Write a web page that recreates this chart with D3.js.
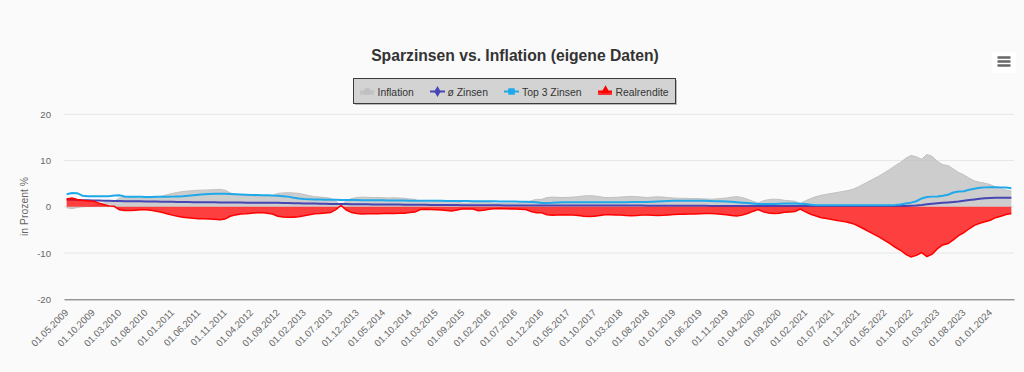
<!DOCTYPE html>
<html><head><meta charset="utf-8">
<script src="https://cdn.jsdelivr.net/npm/d3@7"></script>
<style>
html,body{margin:0;padding:0;background:#fafafa;}
svg{display:block;font-family:"Liberation Sans",Arial,sans-serif;}
</style>
</head><body>
<svg id="chart" width="1024" height="372"></svg>
<script>
const chartTitle = "Sparzinsen vs. Inflation (eigene Daten)";
const seriesNames = ["Inflation", "ø Zinsen", "Top 3 Zinsen", "Realrendite"];
const seriesColors = ["#c0c0c0", "#4646b4", "#1fa8ea", "#ff0000"];
const yTicks = [-20, -10, 0, 10, 20];
const yTitle = "in Prozent %";
const missingMonths = ["01.08.2015"];

// monthly categories 01.05.2009 .. 01.05.2024 (one month missing in the data)
const categories = [];
for (let yr = 2009, mo = 5; yr < 2024 || (yr === 2024 && mo <= 5);) {
  const s = "01." + String(mo).padStart(2, "0") + "." + yr;
  if (!missingMonths.includes(s)) categories.push(s);
  mo++; if (mo > 12) { mo = 1; yr++; }
}

const inflation = [
 -0.2,-0.4,-0.15,0.0,0.1,0.1,0.5,0.8,1.1,1.15,
 1.9,2.0,2.0,1.95,1.85,1.8,1.9,2.1,2.3,2.6,
 2.9,3.1,3.3,3.4,3.5,3.6,3.6,3.65,3.7,3.75,
 3.6,3.0,2.7,2.5,2.4,2.3,2.2,2.15,2.25,2.4,
 2.9,3.0,3.05,3.0,2.9,2.65,2.4,2.2,2.1,2.0,
 1.85,1.2,0.3,1.3,1.8,2.0,2.1,2.05,2.0,2.0,
 1.95,1.9,1.95,1.9,1.85,1.7,1.6,1.05,1.0,1.0,
 1.05,1.1,1.2,1.3,1.1,0.8,0.8,0.85,1.2,1.1,
 0.9,0.75,0.7,0.7,0.75,0.75,0.85,0.9,1.3,1.6,
 1.6,2.0,2.1,2.05,2.0,2.05,2.1,2.2,2.35,2.4,
 2.35,2.2,2.0,2.0,2.05,2.1,2.2,2.25,2.2,2.1,
 2.0,2.1,2.15,2.1,2.0,1.9,1.85,1.85,1.8,1.8,
 1.75,1.7,1.65,1.7,1.8,1.9,2.1,2.2,2.0,1.65,
 1.2,0.8,1.3,1.55,1.65,1.6,1.4,1.3,1.2,0.7,
 1.3,1.8,2.2,2.5,2.7,2.9,3.1,3.3,3.5,3.8,
 4.3,4.9,5.5,6.1,6.7,7.4,8.1,8.9,9.6,10.5,
 11.1,10.8,10.3,11.3,10.9,9.8,9.1,8.9,8.2,7.4,
 6.9,6.2,5.6,5.3,5.1,4.8,4.3,4.0,3.6,3.4
];
const avgRate = [
 1.5,1.5,1.45,1.4,1.4,1.35,1.35,1.3,1.3,1.25,
 1.25,1.2,1.2,1.2,1.2,1.15,1.15,1.15,1.1,1.1,
 1.1,1.05,1.05,1.05,1.0,1.0,1.0,1.0,1.0,0.95,
 0.95,0.95,0.95,0.95,0.9,0.9,0.9,0.9,0.85,0.85,
 0.85,0.8,0.8,0.75,0.75,0.7,0.7,0.7,0.65,0.65,
 0.6,0.6,0.6,0.6,0.55,0.55,0.55,0.55,0.5,0.5,
 0.5,0.5,0.5,0.5,0.45,0.45,0.45,0.45,0.45,0.4,
 0.4,0.4,0.4,0.4,0.4,0.35,0.35,0.35,0.35,0.35,
 0.35,0.35,0.35,0.3,0.3,0.3,0.3,0.3,0.3,0.3,
 0.3,0.3,0.3,0.3,0.3,0.3,0.3,0.3,0.3,0.3,
 0.3,0.3,0.3,0.3,0.3,0.3,0.3,0.3,0.3,0.3,
 0.25,0.25,0.25,0.25,0.25,0.25,0.25,0.25,0.25,0.25,
 0.25,0.25,0.2,0.2,0.2,0.2,0.2,0.2,0.2,0.2,
 0.2,0.2,0.2,0.2,0.2,0.2,0.2,0.2,0.2,0.2,
 0.2,0.2,0.2,0.15,0.15,0.15,0.15,0.15,0.15,0.15,
 0.15,0.15,0.15,0.15,0.15,0.15,0.15,0.15,0.2,0.2,
 0.25,0.3,0.4,0.55,0.65,0.75,0.85,0.95,1.05,1.15,
 1.3,1.45,1.6,1.75,1.85,1.9,1.95,1.95,1.95,1.95
];
const top3Rate = [
 2.7,3.0,2.95,2.4,2.3,2.3,2.3,2.3,2.3,2.45,
 2.5,2.25,2.15,2.15,2.15,2.1,2.1,2.15,2.15,2.15,
 2.2,2.25,2.3,2.4,2.5,2.6,2.7,2.75,2.8,2.8,
 2.8,2.75,2.7,2.65,2.6,2.55,2.55,2.5,2.5,2.45,
 2.4,2.3,2.2,1.95,1.8,1.7,1.65,1.6,1.6,1.55,
 1.5,1.5,1.45,1.45,1.45,1.45,1.4,1.4,1.4,1.4,
 1.4,1.35,1.35,1.35,1.35,1.3,1.3,1.3,1.3,1.3,
 1.3,1.3,1.25,1.25,1.25,1.25,1.25,1.2,1.2,1.2,
 1.2,1.2,1.15,1.15,1.15,1.15,1.1,1.1,1.05,1.0,
 0.8,0.8,0.85,0.95,1.0,1.0,1.0,1.0,1.0,1.0,
 1.0,1.0,1.0,1.0,1.0,1.0,1.0,1.05,1.05,1.05,
 1.05,1.1,1.15,1.2,1.25,1.3,1.3,1.3,1.3,1.3,
 1.3,1.3,1.25,1.2,1.2,1.15,1.1,1.0,0.9,0.8,
 0.7,0.6,0.6,0.6,0.6,0.65,0.7,0.7,0.7,0.65,
 0.6,0.45,0.35,0.35,0.35,0.35,0.35,0.35,0.35,0.35,
 0.35,0.35,0.35,0.35,0.35,0.35,0.35,0.4,0.5,0.7,
 0.9,1.2,1.8,2.1,2.2,2.25,2.4,2.6,3.1,3.3,
 3.35,3.7,3.9,4.1,4.2,4.25,4.25,4.2,4.15,4.0
];
const realReturn = [
 1.7,1.9,1.6,1.4,1.3,1.25,0.85,0.5,0.2,0.1,
 -0.65,-0.8,-0.8,-0.75,-0.65,-0.65,-0.75,-0.95,-1.2,-1.5,
 -1.8,-2.05,-2.25,-2.35,-2.5,-2.6,-2.6,-2.65,-2.7,-2.8,
 -2.65,-2.05,-1.75,-1.55,-1.5,-1.4,-1.3,-1.25,-1.4,-1.55,
 -2.05,-2.2,-2.25,-2.25,-2.15,-1.95,-1.7,-1.5,-1.45,-1.35,
 -1.25,-0.6,0.3,-0.7,-1.25,-1.45,-1.55,-1.5,-1.5,-1.5,
 -1.45,-1.4,-1.45,-1.4,-1.4,-1.25,-1.15,-0.6,-0.55,-0.6,
 -0.65,-0.7,-0.8,-0.9,-0.7,-0.45,-0.45,-0.5,-0.85,-0.75,
 -0.55,-0.4,-0.35,-0.4,-0.45,-0.45,-0.55,-0.6,-1.0,-1.3,
 -1.3,-1.7,-1.8,-1.75,-1.7,-1.75,-1.8,-1.9,-2.05,-2.1,
 -2.05,-1.9,-1.7,-1.7,-1.75,-1.8,-1.9,-1.95,-1.9,-1.8,
 -1.75,-1.85,-1.9,-1.85,-1.75,-1.65,-1.6,-1.6,-1.55,-1.55,
 -1.5,-1.45,-1.45,-1.5,-1.6,-1.7,-1.9,-2.0,-1.8,-1.45,
 -1.0,-0.6,-1.1,-1.35,-1.45,-1.4,-1.2,-1.1,-1.0,-0.5,
 -1.1,-1.6,-2.0,-2.35,-2.55,-2.75,-2.95,-3.15,-3.35,-3.65,
 -4.15,-4.75,-5.35,-5.95,-6.55,-7.25,-7.95,-8.75,-9.4,-10.3,
 -10.85,-10.5,-9.9,-10.75,-10.25,-9.05,-8.25,-7.95,-7.15,-6.25,
 -5.6,-4.75,-4.0,-3.55,-3.25,-2.9,-2.35,-2.05,-1.65,-1.45
];

const svg = d3.select("#chart");
const plot = {left: 64, right: 1014, top: 114.3, bottom: 299.3};
const x = d3.scalePoint().domain(categories).range([plot.left, plot.right]).padding(0.5);
const y = d3.scaleLinear().domain([-20, 20]).range([plot.bottom, plot.top]);
const xi = (d, i) => x(categories[i]);

// title
svg.append("text").attr("x", 515).attr("y", 61).attr("text-anchor", "middle")
  .attr("font-size", 15.7).attr("font-weight", "bold").attr("fill", "#333").text(chartTitle);

// gridlines
svg.append("g").selectAll("line").data(yTicks.filter(t => t > -20)).join("line")
  .attr("x1", plot.left).attr("x2", plot.right)
  .attr("y1", d => y(d)).attr("y2", d => y(d))
  .attr("stroke", "#e6e6e6").attr("stroke-width", 1);

// y axis
const yAxis = svg.append("g").attr("transform", `translate(${plot.left},0)`)
  .call(d3.axisLeft(y).tickValues(yTicks).tickSize(0).tickPadding(13).tickFormat(d => String(d)));
yAxis.select(".domain").remove();
yAxis.selectAll("text").attr("font-size", 9.6).attr("fill", "#666")
  .attr("font-family", '"Liberation Sans",Arial,sans-serif');
svg.append("text").attr("transform", "translate(28,206.5) rotate(-90)")
  .attr("text-anchor", "middle").attr("font-size", 10.4).attr("fill", "#666").text(yTitle);

// series
const area = d3.area().x(xi).y0(y(0)).y1(d => y(d));
const line = d3.line().x(xi).y(d => y(d));

svg.append("path").datum(inflation).attr("d", area)
  .attr("fill", seriesColors[0]).attr("fill-opacity", 0.78);
svg.append("path").datum(inflation).attr("d", line)
  .attr("fill", "none").attr("stroke", seriesColors[0]).attr("stroke-width", 1);
svg.append("path").datum(avgRate).attr("d", line)
  .attr("fill", "none").attr("stroke", seriesColors[1]).attr("stroke-width", 2);
svg.append("path").datum(top3Rate).attr("d", line)
  .attr("fill", "none").attr("stroke", seriesColors[2]).attr("stroke-width", 2);
svg.append("path").datum(realReturn).attr("d", area)
  .attr("fill", seriesColors[3]).attr("fill-opacity", 0.75);
svg.append("path").datum(realReturn).attr("d", line)
  .attr("fill", "none").attr("stroke", seriesColors[3]).attr("stroke-width", 1.5);

// x axis
const xAxis = svg.append("g").attr("transform", `translate(0,${plot.bottom})`)
  .call(d3.axisBottom(x).tickValues(categories.filter((c, i) => i % 5 === 0)).tickSize(0).tickSizeOuter(0));
xAxis.select(".domain").attr("stroke", "#6a6a6a").attr("stroke-width", 1);
xAxis.selectAll("text").attr("font-size", 9.6).attr("fill", "#666")
  .attr("font-family", '"Liberation Sans",Arial,sans-serif')
  .attr("x", 0).attr("y", 0).attr("dy", 0)
  .attr("text-anchor", "end").attr("transform", "translate(2,14) rotate(-45)");

// legend
const lg = svg.append("g");
lg.append("rect").attr("x", 355).attr("y", 80).attr("width", 322).attr("height", 25)
  .attr("fill", "rgba(0,0,0,0.25)");
lg.append("rect").attr("x", 353.5).attr("y", 78.5).attr("width", 322).attr("height", 25)
  .attr("fill", "#d3d3d3").attr("stroke", "#3a3a3a").attr("stroke-width", 1);
const legendItems = [
  {name: seriesNames[0], sx: 360, tx: 377.5, color: seriesColors[0], kind: "area", marker: "circle"},
  {name: seriesNames[1], sx: 430, tx: 447.5, color: seriesColors[1], kind: "line", marker: "diamond"},
  {name: seriesNames[2], sx: 504, tx: 522, color: seriesColors[2], kind: "line", marker: "square"},
  {name: seriesNames[3], sx: 598, tx: 615.5, color: seriesColors[3], kind: "area", marker: "triangle"}
];
const symbolMap = {circle: d3.symbolCircle, diamond: d3.symbolDiamond, square: d3.symbolSquare, triangle: d3.symbolTriangle};
legendItems.forEach(it => {
  const g = lg.append("g");
  if (it.kind === "area") {
    g.append("rect").attr("x", it.sx).attr("y", 91.5).attr("width", 14).attr("height", 3.5)
      .attr("fill", it.color).attr("fill-opacity", 0.75);
    g.append("line").attr("x1", it.sx).attr("x2", it.sx + 14).attr("y1", 91.5).attr("y2", 91.5)
      .attr("stroke", it.color).attr("stroke-width", 2);
  } else {
    g.append("line").attr("x1", it.sx).attr("x2", it.sx + 15).attr("y1", 91.5).attr("y2", 91.5)
      .attr("stroke", it.color).attr("stroke-width", 2);
  }
  g.append("path").attr("transform", `translate(${it.sx + 7.5},${it.marker === "triangle" ? 90.5 : 91.5})`)
    .attr("d", d3.symbol().type(symbolMap[it.marker]).size(it.marker === "square" ? 42 : 36)())
    .attr("fill", it.color);
  g.append("text").attr("x", it.tx).attr("y", 95.5).attr("font-size", 10.4).attr("fill", "#333").text(it.name);
});

// context menu button
const btn = svg.append("g");
btn.append("rect").attr("x", 992).attr("y", 52).attr("width", 24).attr("height", 21).attr("rx", 2)
  .attr("fill", "#ffffff");
[57.5, 61.5, 65.5].forEach(yy => btn.append("line").attr("x1", 997.5).attr("x2", 1010.5)
  .attr("y1", yy).attr("y2", yy).attr("stroke", "#666").attr("stroke-width", 2.5));
</script>
</body></html>
